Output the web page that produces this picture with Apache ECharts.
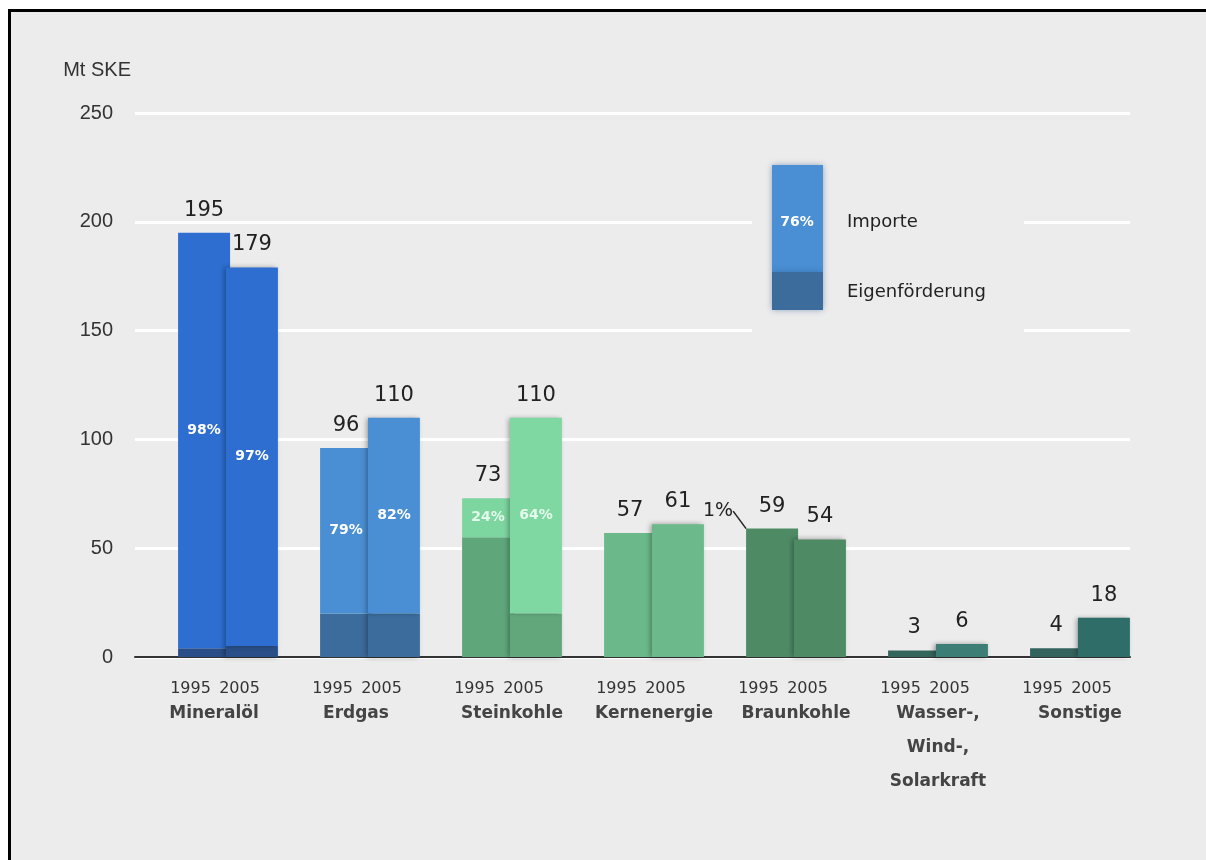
<!DOCTYPE html>
<html>
<head>
<meta charset="utf-8">
<script src="https://cdn.jsdelivr.net/npm/echarts@6/dist/echarts.min.js"></script>
<style>
html,body{margin:0;padding:0;background:#fff;width:1206px;height:860px;overflow:hidden;}
#bg{position:absolute;left:8px;top:9px;width:1300px;height:1000px;border-left:3px solid #000;border-top:3px solid #000;background:#ececec;}
#chart{position:absolute;left:0;top:0;width:1206px;height:860px;}
</style>
</head>
<body>
<div id="bg"></div>
<div id="chart"></div>
<script>
const categories = ['Mineralöl', 'Erdgas', 'Steinkohle', 'Kernenergie', 'Braunkohle', 'Wasser-,\nWind-,\nSolarkraft', 'Sonstige'];
const years = ['1995', '2005'];
const total1995 = [195, 96, 73, 57, 59, 3, 4];
const total2005 = [179, 110, 110, 61, 54, 6, 18];
const dom1995 = [4, 20, 55, 57, 58.4, 3, 4];
const imp1995 = [191, 76, 18, 0, 0.6, 0, 0];
const dom2005 = [5, 20, 20, 61, 54, 6, 18];
const imp2005 = [174, 90, 90, 0, 0, 0, 0];
const share1995 = ['98%', '79%', '24%', '', '1%', '', ''];
const share2005 = ['97%', '82%', '64%', '', '', '', ''];
const yTicks = [0, 50, 100, 150, 200, 250];

const impColor1995 = ['#2d6ed0', '#4a8fd3', '#7dd6a0', '#6bb98a', '#4e8b65', '#35665e', '#33635c'];
const domColor1995 = ['#2a4f88', '#3b6c9c', '#5fa67b', '#6bb98a', '#4e8b65', '#35665e', '#33635c'];
const impColor2005 = ['#2d6ed0', '#4a8fd3', '#7fd7a2', '#6cba8b', '#4e8b65', '#3c7e76', '#2f6e68'];
const domColor2005 = ['#2a4f88', '#3b6c9c', '#62a77c', '#6cba8b', '#4e8b65', '#3c7e76', '#2f6e68'];

const chart = echarts.init(document.getElementById('chart'), null, {renderer: 'canvas'});

const BW = 52;
const pctLabel = (txt, light) => ({
  show: !!txt, position: 'inside', formatter: txt,
  color: light ? '#e4fbec' : '#ffffff', fontFamily: 'DejaVu Sans', fontWeight: 'bold', fontSize: 14
});

function shadowStyle(on) {
  return on ? {shadowBlur: 5, shadowOffsetX: -2, shadowColor: 'rgba(0,0,0,0.35)'} : {};
}
function domSeries(vals, colors, stack, sh) {
  return {
    type: 'bar', xAxisIndex: 1, yAxisIndex: 1, stack: stack, barWidth: BW, barGap: '-8%',
    data: vals.map((v, i) => ({value: v, itemStyle: Object.assign({color: colors[i]}, shadowStyle(sh))})),
    label: {show: false}
  };
}
function impSeries(vals, colors, shares, stack, sh) {
  return {
    type: 'bar', xAxisIndex: 1, yAxisIndex: 1, stack: stack, barWidth: BW, barGap: '-8%',
    data: vals.map((v, i) => {
      const item = {value: v, itemStyle: Object.assign({color: colors[i]}, shadowStyle(sh && v > 0))};
      if (i === 4 && shares[i]) {
        item.label = {show: true, position: 'top', formatter: shares[i], color: '#222',
          fontFamily: 'DejaVu Sans', fontSize: 19, distance: 2};
        item.labelLine = {show: true, lineStyle: {color: '#222', width: 1.5}};
      } else {
        item.label = pctLabel(shares[i], i === 2);
      }
      return item;
    }),
    labelLayout: (p) => (p.dataIndex === 4 ? {dx: -54, dy: -6} : (p.dataIndex === 0 && stack === 'a' ? {dy: -10} : {}))
  };
}
function capSeries(totals, stack) {
  return {
    type: 'bar', xAxisIndex: 1, yAxisIndex: 1, stack: stack, barWidth: BW, barGap: '-8%',
    data: totals.map(() => 0),
    itemStyle: {color: 'rgba(0,0,0,0)'},
    label: {show: true, position: 'top', distance: 12,
      formatter: (p) => String(totals[p.dataIndex]),
      color: '#222', fontFamily: 'DejaVu Sans', fontSize: 21}
  };
}

const option = {
  backgroundColor: 'transparent',
  animation: false,
  grid: [
    {left: 135, right: 76, top: 113, bottom: 203},
    {left: 157, right: 55, top: 113, bottom: 203}
  ],
  xAxis: [
    {type: 'category', gridIndex: 0, data: categories,
     axisLine: {show: true, lineStyle: {color: '#333', width: 2}},
     axisTick: {show: false}, axisLabel: {show: false}, splitLine: {show: false}},
    {type: 'category', gridIndex: 1, data: categories,
     axisLine: {show: false}, axisTick: {show: false}, splitLine: {show: false},
     axisLabel: {
       show: true, interval: 0, margin: 20,
       formatter: (val, idx) => {
         const st = idx < 2 ? 'm' : 'n';
         const lines = val.split('\n').map(s => '{' + st + '|' + s + '}').join('\n');
         return '{y|' + years[0] + '}{y|' + years[1] + '}{g|}\n' + lines;
       },
       rich: {
         y: {fontFamily: 'DejaVu Sans', fontSize: 16, color: '#333', width: 49, align: 'center', lineHeight: 24},
         g: {width: 26, lineHeight: 24},
         n: {fontFamily: 'DejaVu Sans', fontWeight: 'bold', fontSize: 17, color: '#444', lineHeight: 34, padding: [0, 0, 8, 0]},
         m: {fontFamily: 'DejaVu Sans', fontWeight: 'bold', fontSize: 17, color: '#444', lineHeight: 34, padding: [0, 28, 8, 0]}
       }
     }}
  ],
  yAxis: [
    {type: 'value', gridIndex: 0, min: 0, max: 250, interval: 50,
     name: 'Mt SKE', nameLocation: 'end', nameGap: 33,
     nameTextStyle: {fontFamily: 'Liberation Sans', fontSize: 20, color: '#333', align: 'right', padding: [0, 4, 0, 0]},
     axisLine: {show: false}, axisTick: {show: false},
     axisLabel: {fontFamily: 'Liberation Sans', fontSize: 20, color: '#333', margin: 22,
       formatter: (v) => (yTicks.indexOf(v) >= 0 ? String(v) : '')},
     splitLine: {show: true, lineStyle: {color: '#ffffff', width: 3}}},
    {type: 'value', gridIndex: 1, min: 0, max: 250, interval: 50, show: false,
     splitLine: {show: false}}
  ],
  series: [
    domSeries(dom1995, domColor1995, 'a', false),
    impSeries(imp1995, impColor1995, share1995, 'a', false),
    capSeries(total1995, 'a'),
    domSeries(dom2005, domColor2005, 'b', true),
    impSeries(imp2005, impColor2005, share2005, 'b', true),
    capSeries(total2005, 'b')
  ],
  graphic: [
    {type: 'rect', z: 1, shape: {x: 752, y: 145, width: 272, height: 198}, style: {fill: '#ececec'}},
    {type: 'rect', z: 5, shape: {x: 772, y: 165, width: 51, height: 107}, style: {fill: '#4a8fd3', shadowBlur: 6, shadowColor: 'rgba(40,80,140,0.45)'}},
    {type: 'rect', z: 5, shape: {x: 772, y: 272, width: 51, height: 38}, style: {fill: '#3b6c9c', shadowBlur: 6, shadowColor: 'rgba(40,80,140,0.45)'}},
    {type: 'text', z: 6, x: 797, y: 222, style: {text: '76%', fill: '#fff', font: 'bold 14px "DejaVu Sans"', textAlign: 'center', textVerticalAlign: 'middle'}},
    {type: 'text', z: 6, x: 847, y: 222, style: {text: 'Importe', fill: '#222', font: '18px "DejaVu Sans"', textAlign: 'left', textVerticalAlign: 'middle'}},
    {type: 'text', z: 6, x: 847, y: 292, style: {text: 'Eigenförderung', fill: '#222', font: '18px "DejaVu Sans"', textAlign: 'left', textVerticalAlign: 'middle'}}
  ]
};
chart.setOption(option);
</script>
</body>
</html>
